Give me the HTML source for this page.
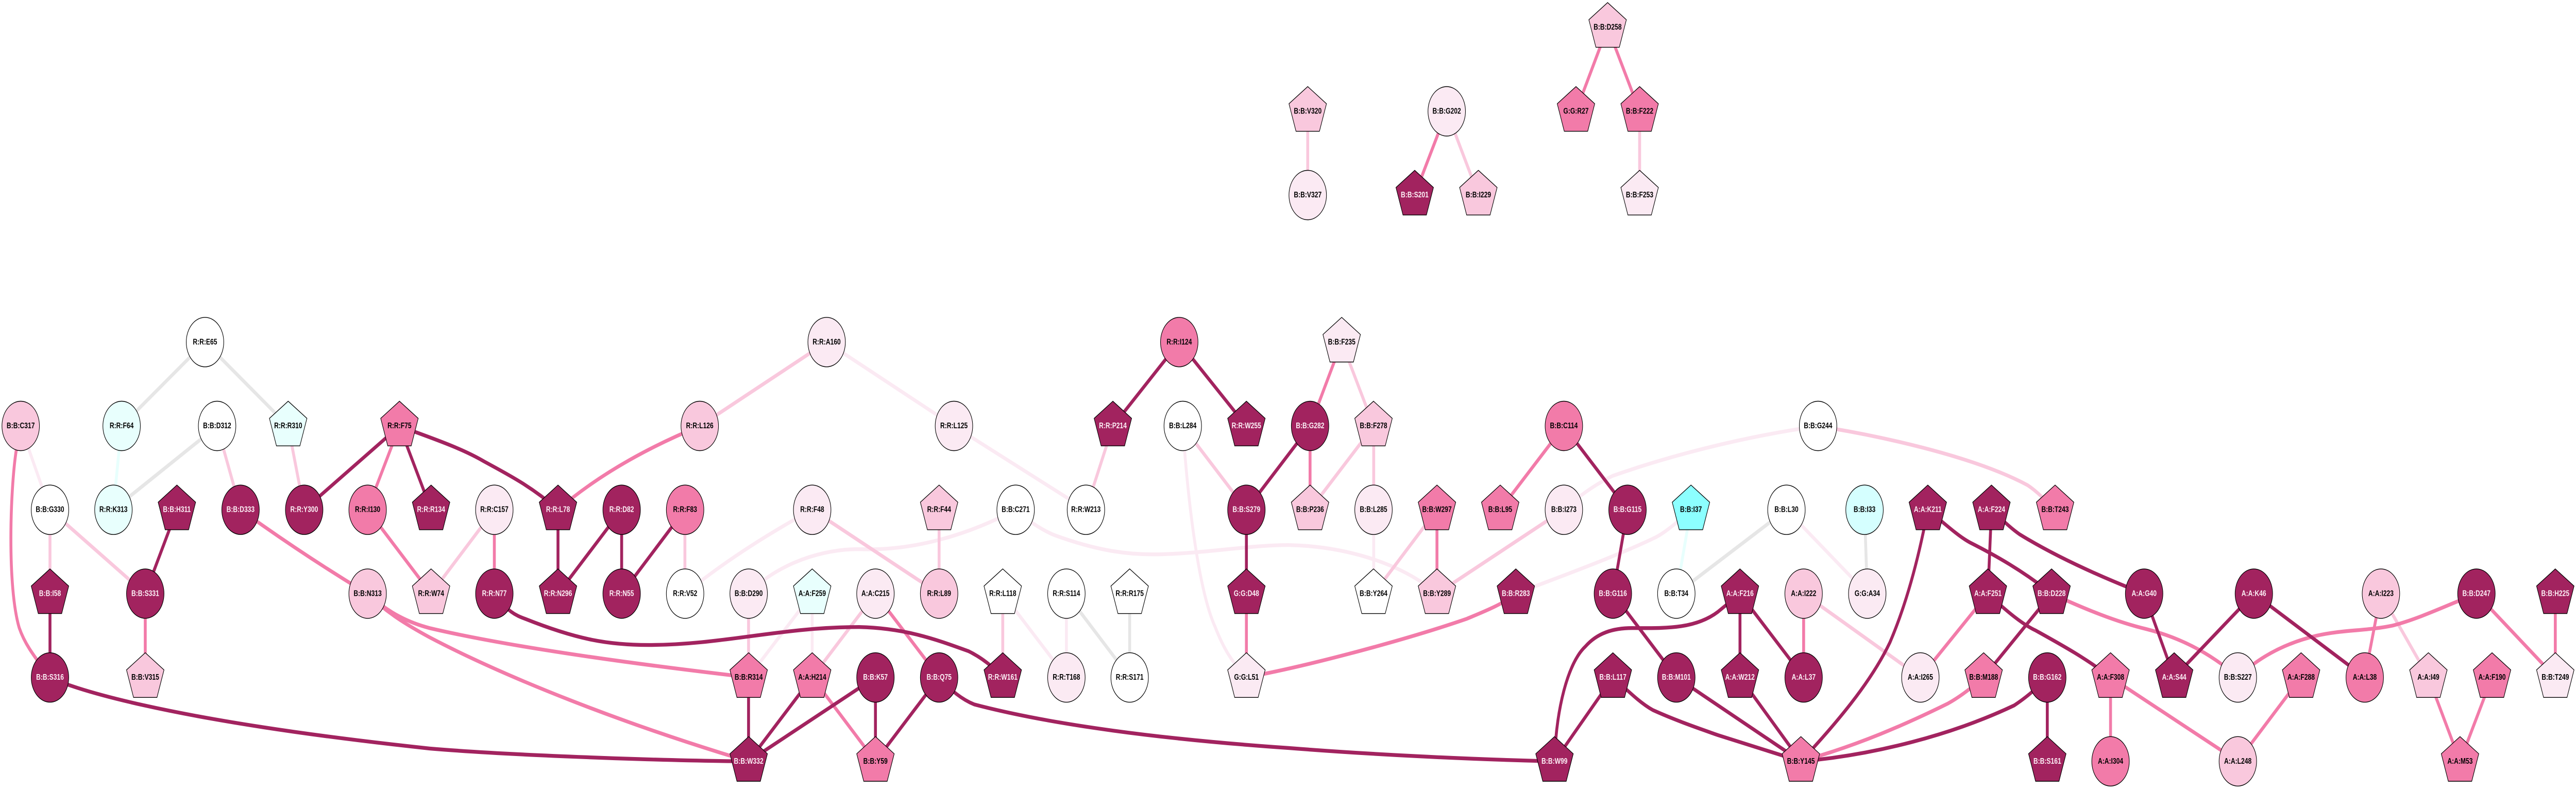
<!DOCTYPE html>
<html><head><meta charset="utf-8"><title>Network</title>
<style>
html,body{margin:0;padding:0;background:#fff;overflow:hidden;width:100%;height:100%}
svg{display:block;width:100vw;height:100vh}
text{font-family:"Liberation Sans",sans-serif;font-size:16px;font-weight:bold;text-anchor:middle;fill:#000}
.d{fill:#a2235f}.m{fill:#f27ba9}.l{fill:#f9c8dd}.v{fill:#fbeaf3}.w{fill:#fff}.c{fill:#e8fffd}.i{fill:#d5ffff}.j{fill:#8cffff}
.d text{fill:#fdf0f6}
.E path{fill:none;stroke-width:7.4}
.ED path{stroke:#a2235f}.EM path{stroke:#f27ba9}.EL path{stroke:#f9c8dd}.EV path{stroke:#fbeaf3}.EG path{stroke:#e6e6e6}.EC path{stroke:#e8fffd}
</style></head><body>
<svg xmlns="http://www.w3.org/2000/svg" viewBox="0 0 6597 1531" preserveAspectRatio="none">
<defs>
<polygon id="p" points="0,-48 48,-14.7 30,38.7 -30,38.7 -48,-14.7" stroke="#000" stroke-width="1.4"/>
<circle id="e" r="48" stroke="#000" stroke-width="1.4"/>
</defs>
<rect width="6597" height="1531" fill="#fff"/>
<g class="E EL"><path d="M4199 216L4199 378"/><path d="M3349 216L3349 378"/><path d="M3705 216L3786 378"/></g>
<g class="E EM"><path d="M4117 53L4036 216"/><path d="M4117 53L4199 216"/><path d="M3705 216L3623 378"/></g>
<g transform="translate(0 3.45) scale(1 .9945)">
<g class="E EG">
<path d="M525 664L311 828"/><path d="M525 664L738 828"/><path d="M556 828L290 991"/>
<path d="M2731 1155L2893 1318"/><path d="M2893 1155L2893 1318"/>
<path d="M4293 1155L4575 991"/><path d="M4775 991L4782 1155"/>
</g>
<g class="E EC">
<path d="M311 828L290 991"/><path d="M4330 991L4293 1155"/>
</g>
<g class="E EV">
<path d="M53 828L128 991"/>
<path d="M2117 664L2443 828"/><path d="M2443 828L2781 991"/>
<path d="M2080 991Q1890 1070 1754 1155"/>
<path d="M1917 1155C1970 1110 2080 1068 2200 1068C2340 1072 2480 1040 2601 991"/>
<path d="M2601 991C2640 1018 2680 1035 2705 1042C2800 1068 2880 1080 2972 1078C3090 1076 3200 1060 3300 1060C3430 1062 3580 1090 3680 1155"/>
<path d="M2080 1155L1917 1318"/><path d="M2080 1155L2080 1318"/>
<path d="M2568 1155L2731 1318"/><path d="M2731 1155L2731 1318"/>
<path d="M3029 828C3040 950 3065 1140 3112 1220C3130 1255 3150 1285 3192 1318"/>
<path d="M3518 991L3518 1155"/>
<path d="M4005 991C4050 960 4090 940 4130 925C4260 890 4450 850 4656 828"/>
<path d="M4330 991C4290 1020 4260 1037 4240 1045C4130 1085 4000 1120 3882 1155"/>
<path d="M4575 991L4782 1155"/>
</g>
<g class="E EL">
<path d="M556 828L616 991"/><path d="M738 828L779 991"/><path d="M128 991L128 1155"/><path d="M128 991L372 1155"/>
<path d="M1266 991L1104 1155"/><path d="M1754 991L1754 1155"/>
<path d="M2117 664L1792 828"/><path d="M2080 991L2405 1155"/><path d="M2405 991L2405 1155"/>
<path d="M1917 1155L1917 1318"/><path d="M2242 1155L2080 1318"/><path d="M2568 1155L2568 1318"/>
<path d="M2850 828L2781 991"/><path d="M3029 828L3192 991"/>
<path d="M3436 664L3518 828"/><path d="M3518 828L3355 991"/><path d="M3518 828L3518 991"/>
<path d="M3680 991L3518 1155"/><path d="M4005 991L3680 1155"/>
<path d="M4656 828C4800 845 5050 885 5192 943C5220 957 5240 975 5263 991"/>
<path d="M4619 1155L4918 1318"/><path d="M6097 1155L6219 1318"/>
</g>
<g class="E EM">
<path d="M1023 828L941 991"/><path d="M941 991L1104 1155"/><path d="M1266 991L1266 1155"/>
<path d="M372 1155L372 1318"/>
<path d="M42 873C26 950 18 1140 49 1221C62 1250 80 1270 128 1318"/>
<path d="M616 991Q770 1076 941 1155"/>
<path d="M941 1155C1000 1195 1050 1212 1100 1222C1300 1258 1600 1290 1917 1318"/>
<path d="M941 1155C990 1192 1040 1215 1100 1240C1300 1320 1600 1410 1917 1482"/>
<path d="M1792 828Q1572 897 1429 991"/>
<path d="M2242 1155L2405 1318"/><path d="M2080 1318L2242 1482"/>
<path d="M3192 1155L3192 1318"/>
<path d="M3192 1318C3350 1296 3600 1245 3756 1204C3800 1190 3850 1175 3882 1155"/>
<path d="M3436 664L3355 828"/><path d="M3355 828L3355 991"/><path d="M3680 991L3680 1155"/>
<path d="M4005 828L3842 991"/>
<path d="M4619 1155L4619 1318"/><path d="M5091 1155L4918 1318"/>
<path d="M5254 1155C5340 1185 5420 1210 5497 1224C5580 1240 5660 1270 5731 1318"/>
<path d="M5080 1318C5040 1345 5010 1360 4989 1369C4880 1410 4760 1450 4612 1482"/>
<path d="M5405 1318L5405 1482"/><path d="M5405 1318L5731 1482"/><path d="M5893 1318L5731 1482"/>
<path d="M6341 1155C6260 1180 6190 1205 6128 1217C6060 1228 6000 1225 5932 1237C5860 1250 5790 1275 5731 1318"/>
<path d="M6342 1155L6544 1318"/><path d="M6544 1155L6544 1318"/>
<path d="M6097 1155L6056 1318"/><path d="M6219 1318L6300 1482"/><path d="M6382 1318L6300 1482"/>
</g>
<g class="E ED">
<path d="M1023 828L779 991"/><path d="M1023 828L1104 991"/>
<path d="M1023 828C1100 850 1180 870 1240 897C1300 922 1360 945 1429 991"/>
<path d="M453 991L372 1155"/><path d="M128 1155L128 1318"/>
<path d="M128 1318C170 1335 400 1400 1100 1457C1300 1470 1700 1481 1917 1482"/>
<path d="M1429 991L1429 1155"/><path d="M1592 991L1429 1155"/><path d="M1592 991L1592 1155"/><path d="M1754 991L1592 1155"/>
<path d="M1266 1155C1300 1190 1320 1197 1345 1204C1480 1245 1560 1255 1661 1255C1850 1255 2000 1220 2200 1220C2320 1222 2400 1245 2480 1267C2510 1278 2540 1295 2568 1318"/>
<path d="M1917 1318L1917 1482"/><path d="M2080 1318L1917 1482"/><path d="M2242 1318L1917 1482"/>
<path d="M2242 1318L2242 1482"/><path d="M2405 1318L2242 1482"/>
<path d="M2405 1318C2430 1340 2460 1360 2495 1371C2650 1402 2900 1435 3300 1456C3500 1468 3750 1478 3981 1482"/>
<path d="M3020 664L2850 828"/><path d="M3020 664L3192 828"/>
<path d="M3355 828L3192 991"/><path d="M3192 991L3192 1155"/>
<path d="M4005 828L4168 991"/><path d="M4168 991L4131 1155"/><path d="M4131 1155L4293 1318"/>
<path d="M3981 1482L4131 1318"/>
<path d="M3981 1482C3985 1380 4015 1290 4060 1258C4090 1232 4130 1222 4180 1222C4260 1222 4340 1225 4400 1190L4456 1155"/>
<path d="M4456 1155L4456 1318"/><path d="M4456 1155L4619 1318"/>
<path d="M4456 1318L4612 1482"/>
<path d="M4131 1318C4170 1345 4200 1368 4233 1382C4300 1405 4360 1420 4400 1431L4612 1482"/>
<path d="M4293 1318L4612 1482"/>
<path d="M4937 991C4990 1025 5020 1045 5045 1055C5110 1080 5180 1110 5254 1155"/>
<path d="M4937 991C4915 1080 4885 1170 4840 1250C4790 1330 4700 1410 4612 1482"/>
<path d="M5100 991L5091 1155"/>
<path d="M5100 991C5140 1020 5155 1030 5172 1039C5270 1085 5390 1125 5491 1155"/>
<path d="M5091 1155C5140 1190 5180 1215 5214 1227C5280 1255 5340 1280 5405 1318"/>
<path d="M5254 1155L5080 1318"/>
<path d="M5243 1318C5210 1345 5180 1362 5158 1373C5000 1430 4800 1470 4612 1482"/>
<path d="M5243 1318L5243 1482"/>
<path d="M5491 1155L5568 1318"/><path d="M5772 1155L5568 1318"/><path d="M5772 1155L6056 1318"/>
</g>
</g>

<g class="w" transform="translate(525 663.8)"><use href="#e"/><text y="4.5">R:R:E65</text></g>
<g class="c" transform="translate(311.5 826.5)"><use href="#e"/><text y="4.5">R:R:F64</text></g>
<g class="w" transform="translate(556 826.5)"><use href="#e"/><text y="4.5">B:B:D312</text></g>
<g class="c" transform="translate(738 826.5)"><use href="#p"/><text y="4.5">R:R:R310</text></g>
<g class="l" transform="translate(53 826.5)"><use href="#e"/><text y="4.5">B:B:C317</text></g>
<g class="m" transform="translate(1023 826.5)"><use href="#p"/><text y="4.5">R:R:F75</text></g>
<g class="w" transform="translate(128 989.2)"><use href="#e"/><text y="4.5">B:B:G330</text></g>
<g class="c" transform="translate(290.5 989.2)"><use href="#e"/><text y="4.5">R:R:K313</text></g>
<g class="d" transform="translate(453 989.2)"><use href="#p"/><text y="4.5">B:B:H311</text></g>
<g class="d" transform="translate(616 989.2)"><use href="#e"/><text y="4.5">B:B:D333</text></g>
<g class="d" transform="translate(779 989.2)"><use href="#e"/><text y="4.5">R:R:Y300</text></g>
<g class="m" transform="translate(941.5 989.2)"><use href="#e"/><text y="4.5">R:R:I130</text></g>
<g class="d" transform="translate(1104 989.2)"><use href="#p"/><text y="4.5">R:R:R134</text></g>
<g class="d" transform="translate(128 1151.9)"><use href="#p"/><text y="4.5">B:B:I58</text></g>
<g class="d" transform="translate(372 1151.9)"><use href="#e"/><text y="4.5">B:B:S331</text></g>
<g class="l" transform="translate(941.5 1151.9)"><use href="#e"/><text y="4.5">B:B:N313</text></g>
<g class="l" transform="translate(1104 1151.9)"><use href="#p"/><text y="4.5">R:R:W74</text></g>
<g class="d" transform="translate(128 1314.6)"><use href="#e"/><text y="4.5">B:B:S316</text></g>
<g class="l" transform="translate(372 1314.6)"><use href="#p"/><text y="4.5">B:B:V315</text></g>

<g class="v" transform="translate(1266 989.2)"><use href="#e"/><text y="4.5">R:R:C157</text></g>
<g class="d" transform="translate(1429 989.2)"><use href="#p"/><text y="4.5">R:R:L78</text></g>
<g class="d" transform="translate(1592 989.2)"><use href="#e"/><text y="4.5">R:R:D82</text></g>
<g class="m" transform="translate(1754.5 989.2)"><use href="#e"/><text y="4.5">R:R:F83</text></g>
<g class="v" transform="translate(2080 989.2)"><use href="#e"/><text y="4.5">R:R:F48</text></g>
<g class="v" transform="translate(2117 663.8)"><use href="#e"/><text y="4.5">R:R:A160</text></g>
<g class="l" transform="translate(1792 826.5)"><use href="#e"/><text y="4.5">R:R:L126</text></g>
<g class="d" transform="translate(1266 1151.9)"><use href="#e"/><text y="4.5">R:R:N77</text></g>
<g class="d" transform="translate(1429 1151.9)"><use href="#p"/><text y="4.5">R:R:N296</text></g>
<g class="d" transform="translate(1592 1151.9)"><use href="#e"/><text y="4.5">R:R:N55</text></g>
<g class="w" transform="translate(1754.5 1151.9)"><use href="#e"/><text y="4.5">R:R:V52</text></g>
<g class="v" transform="translate(1917.3 1151.9)"><use href="#e"/><text y="4.5">B:B:D290</text></g>
<g class="c" transform="translate(2080 1151.9)"><use href="#p"/><text y="4.5">A:A:F259</text></g>
<g class="m" transform="translate(1917.3 1314.6)"><use href="#p"/><text y="4.5">B:B:R314</text></g>
<g class="m" transform="translate(2080 1314.6)"><use href="#p"/><text y="4.5">A:A:H214</text></g>
<g class="d" transform="translate(1917.3 1477.3)"><use href="#p"/><text y="4.5">B:B:W332</text></g>

<g class="v" transform="translate(2443 826.5)"><use href="#e"/><text y="4.5">R:R:L125</text></g>
<g class="d" transform="translate(2850 826.5)"><use href="#p"/><text y="4.5">R:R:P214</text></g>
<g class="w" transform="translate(3029 826.5)"><use href="#e"/><text y="4.5">B:B:L284</text></g>
<g class="d" transform="translate(3192 826.5)"><use href="#p"/><text y="4.5">R:R:W255</text></g>
<g class="m" transform="translate(3020 663.8)"><use href="#e"/><text y="4.5">R:R:I124</text></g>
<g class="l" transform="translate(2405 989.2)"><use href="#p"/><text y="4.5">R:R:F44</text></g>
<g class="w" transform="translate(2601 989.2)"><use href="#e"/><text y="4.5">B:B:C271</text></g>
<g class="w" transform="translate(2781 989.2)"><use href="#e"/><text y="4.5">R:R:W213</text></g>
<g class="d" transform="translate(3192 989.2)"><use href="#e"/><text y="4.5">B:B:S279</text></g>
<g class="v" transform="translate(2242 1151.9)"><use href="#e"/><text y="4.5">A:A:C215</text></g>
<g class="l" transform="translate(2405 1151.9)"><use href="#e"/><text y="4.5">R:R:L89</text></g>
<g class="w" transform="translate(2568 1151.9)"><use href="#p"/><text y="4.5">R:R:L118</text></g>
<g class="w" transform="translate(2731 1151.9)"><use href="#e"/><text y="4.5">R:R:S114</text></g>
<g class="w" transform="translate(2893 1151.9)"><use href="#p"/><text y="4.5">R:R:R175</text></g>
<g class="d" transform="translate(3192 1151.9)"><use href="#p"/><text y="4.5">G:G:D48</text></g>
<g class="d" transform="translate(2242 1314.6)"><use href="#e"/><text y="4.5">B:B:K57</text></g>
<g class="d" transform="translate(2405 1314.6)"><use href="#e"/><text y="4.5">B:B:Q75</text></g>
<g class="d" transform="translate(2568 1314.6)"><use href="#p"/><text y="4.5">R:R:W161</text></g>
<g class="v" transform="translate(2731 1314.6)"><use href="#e"/><text y="4.5">R:R:T168</text></g>
<g class="w" transform="translate(2893 1314.6)"><use href="#e"/><text y="4.5">R:R:S171</text></g>
<g class="v" transform="translate(3192 1314.6)"><use href="#p"/><text y="4.5">G:G:L51</text></g>
<g class="m" transform="translate(2242 1477.3)"><use href="#p"/><text y="4.5">B:B:Y59</text></g>

<g class="v" transform="translate(3436 663.8)"><use href="#p"/><text y="4.5">B:B:F235</text></g>
<g class="d" transform="translate(3355 826.5)"><use href="#e"/><text y="4.5">B:B:G282</text></g>
<g class="l" transform="translate(3517.5 826.5)"><use href="#p"/><text y="4.5">B:B:F278</text></g>
<g class="m" transform="translate(4005 826.5)"><use href="#e"/><text y="4.5">B:B:C114</text></g>
<g class="l" transform="translate(3355 989.2)"><use href="#p"/><text y="4.5">B:B:P236</text></g>
<g class="v" transform="translate(3517.5 989.2)"><use href="#e"/><text y="4.5">B:B:L285</text></g>
<g class="m" transform="translate(3680 989.2)"><use href="#p"/><text y="4.5">B:B:W297</text></g>
<g class="m" transform="translate(3842 989.2)"><use href="#p"/><text y="4.5">B:B:L95</text></g>
<g class="v" transform="translate(4005 989.2)"><use href="#e"/><text y="4.5">B:B:I273</text></g>
<g class="d" transform="translate(4168 989.2)"><use href="#e"/><text y="4.5">B:B:G115</text></g>
<g class="j" transform="translate(4330.5 989.2)"><use href="#p"/><text y="4.5">B:B:I37</text></g>
<g class="w" transform="translate(3517.5 1151.9)"><use href="#p"/><text y="4.5">B:B:Y264</text></g>
<g class="l" transform="translate(3680 1151.9)"><use href="#p"/><text y="4.5">B:B:Y289</text></g>
<g class="d" transform="translate(3882 1151.9)"><use href="#p"/><text y="4.5">B:B:R283</text></g>
<g class="d" transform="translate(4130.5 1151.9)"><use href="#e"/><text y="4.5">B:B:G116</text></g>
<g class="w" transform="translate(4293 1151.9)"><use href="#e"/><text y="4.5">B:B:T34</text></g>
<g class="d" transform="translate(4130.5 1314.6)"><use href="#p"/><text y="4.5">B:B:L117</text></g>
<g class="d" transform="translate(4293 1314.6)"><use href="#e"/><text y="4.5">B:B:M101</text></g>
<g class="d" transform="translate(3981 1477.3)"><use href="#p"/><text y="4.5">B:B:W99</text></g>

<g class="w" transform="translate(4656 826.5)"><use href="#e"/><text y="4.5">B:B:G244</text></g>
<g class="w" transform="translate(4575 989.2)"><use href="#e"/><text y="4.5">B:B:L30</text></g>
<g class="i" transform="translate(4775 989.2)"><use href="#e"/><text y="4.5">B:B:I33</text></g>
<g class="d" transform="translate(4937 989.2)"><use href="#p"/><text y="4.5">A:A:K211</text></g>
<g class="d" transform="translate(5100 989.2)"><use href="#p"/><text y="4.5">A:A:F224</text></g>
<g class="m" transform="translate(5263 989.2)"><use href="#p"/><text y="4.5">B:B:T243</text></g>
<g class="d" transform="translate(4456 1151.9)"><use href="#p"/><text y="4.5">A:A:F216</text></g>
<g class="l" transform="translate(4619 1151.9)"><use href="#e"/><text y="4.5">A:A:I222</text></g>
<g class="v" transform="translate(4782 1151.9)"><use href="#e"/><text y="4.5">G:G:A34</text></g>
<g class="d" transform="translate(5091 1151.9)"><use href="#p"/><text y="4.5">A:A:F251</text></g>
<g class="d" transform="translate(5254 1151.9)"><use href="#p"/><text y="4.5">B:B:D228</text></g>
<g class="d" transform="translate(5491 1151.9)"><use href="#e"/><text y="4.5">A:A:G40</text></g>
<g class="d" transform="translate(4456 1314.6)"><use href="#p"/><text y="4.5">A:A:W212</text></g>
<g class="d" transform="translate(4619 1314.6)"><use href="#e"/><text y="4.5">A:A:L37</text></g>
<g class="v" transform="translate(4918 1314.6)"><use href="#e"/><text y="4.5">A:A:I265</text></g>
<g class="m" transform="translate(5080 1314.6)"><use href="#p"/><text y="4.5">B:B:M188</text></g>
<g class="d" transform="translate(5243 1314.6)"><use href="#e"/><text y="4.5">B:B:G162</text></g>
<g class="m" transform="translate(5405 1314.6)"><use href="#p"/><text y="4.5">A:A:F308</text></g>
<g class="m" transform="translate(4612 1477.3)"><use href="#p"/><text y="4.5">B:B:Y145</text></g>
<g class="d" transform="translate(5243 1477.3)"><use href="#p"/><text y="4.5">B:B:S161</text></g>
<g class="m" transform="translate(5405 1477.3)"><use href="#e"/><text y="4.5">A:A:I304</text></g>

<g class="d" transform="translate(5772 1151.9)"><use href="#e"/><text y="4.5">A:A:K46</text></g>
<g class="l" transform="translate(6097.5 1151.9)"><use href="#e"/><text y="4.5">A:A:I223</text></g>
<g class="d" transform="translate(6342 1151.9)"><use href="#e"/><text y="4.5">B:B:D247</text></g>
<g class="d" transform="translate(6544 1151.9)"><use href="#p"/><text y="4.5">B:B:H225</text></g>
<g class="d" transform="translate(5568 1314.6)"><use href="#p"/><text y="4.5">A:A:S44</text></g>
<g class="v" transform="translate(5731 1314.6)"><use href="#e"/><text y="4.5">B:B:S227</text></g>
<g class="m" transform="translate(5893 1314.6)"><use href="#p"/><text y="4.5">A:A:F288</text></g>
<g class="m" transform="translate(6056 1314.6)"><use href="#e"/><text y="4.5">A:A:L38</text></g>
<g class="l" transform="translate(6219 1314.6)"><use href="#p"/><text y="4.5">A:A:I49</text></g>
<g class="m" transform="translate(6382 1314.6)"><use href="#p"/><text y="4.5">A:A:F190</text></g>
<g class="v" transform="translate(6544 1314.6)"><use href="#p"/><text y="4.5">B:B:T249</text></g>
<g class="l" transform="translate(5731 1477.3)"><use href="#e"/><text y="4.5">A:A:L248</text></g>
<g class="m" transform="translate(6300 1477.3)"><use href="#p"/><text y="4.5">A:A:M53</text></g>

<g class="l" transform="translate(3349 216)"><use href="#p"/><text y="4.5">B:B:V320</text></g>
<g class="v" transform="translate(3349 378.5)"><use href="#e"/><text y="4.5">B:B:V327</text></g>
<g class="v" transform="translate(3705 216)"><use href="#e"/><text y="4.5">B:B:G202</text></g>
<g class="d" transform="translate(3623 378.5)"><use href="#p"/><text y="4.5">B:B:S201</text></g>
<g class="l" transform="translate(3786 378.5)"><use href="#p"/><text y="4.5">B:B:I229</text></g>
<g class="l" transform="translate(4117 53)"><use href="#p"/><text y="4.5">B:B:D258</text></g>
<g class="m" transform="translate(4036 216)"><use href="#p"/><text y="4.5">G:G:R27</text></g>
<g class="m" transform="translate(4199 216)"><use href="#p"/><text y="4.5">B:B:F222</text></g>
<g class="v" transform="translate(4199 378.5)"><use href="#p"/><text y="4.5">B:B:F253</text></g>
</svg>
</body></html>
